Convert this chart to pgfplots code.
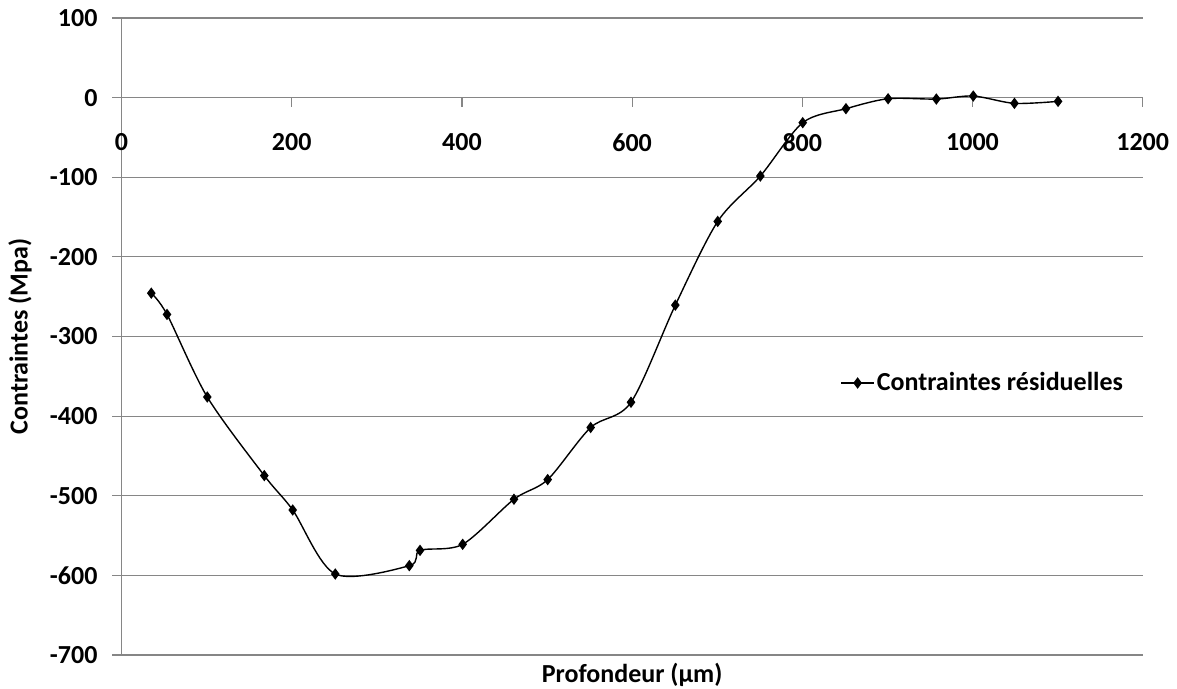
\documentclass[border=0pt]{standalone}
\usepackage{fontspec}
\setmainfont{Carlito}
\usepackage{pgfplots}
\pgfplotsset{compat=1.18}
\definecolor{gridgray}{RGB}{134,134,134}
\begin{document}
\begin{tikzpicture}
\begin{axis}[
  at={(0,0)}, anchor=south west,
  scale only axis, width=510.6pt, height=318.5pt,
  xmin=0, xmax=1200, ymin=-700, ymax=100,
  axis x line*=middle, axis y line*=left,
  axis line style={gridgray, line width=0.6pt},
  hide obscured x ticks=false, hide obscured y ticks=false,
  xtick={0,200,400,600,800,1000,1200},
  xticklabels={0,200,400,600,800,1000,1200},
  ytick={-700,-600,-500,-400,-300,-200,-100,0,100},
  yticklabels={-700,-600,-500,-400,-300,-200,-100,0,100},
  tick align=outside, major tick length=4.5pt,
  tick style={gridgray, line width=0.6pt},
  ymajorgrids, grid style={gridgray, line width=0.6pt},
  ticklabel style={font=\bfseries\fontsize{13}{15}\selectfont},
  xticklabel style={yshift=-10pt},
  yticklabel style={xshift=-4pt},
  xlabel={Profondeur (µm)}, ylabel={Contraintes (Mpa)},
  label style={font=\bfseries\fontsize{13}{15}\selectfont},
  xlabel style={at={(axis description cs:0.5,0)}, anchor=north, yshift=-0.5pt},
  ylabel style={at={(axis description cs:-0.0994,0.5)}, anchor=center, rotate=0},
  legend style={draw=none, fill=none, at={(axis description cs:0.7036,0.427)}, anchor=west,
    inner xsep=0pt, font=\bfseries\fontsize{13}{15}\selectfont, nodes={inner xsep=1pt}},
  legend cell align=left,
  legend image code/.code={
    \draw[mark repeat=2,mark phase=2,#1] plot coordinates {(0cm,0cm) (0.29cm,0cm) (0.58cm,0cm)};},
  clip=false,
]
\addplot[black, line width=0.7pt, smooth, tension=0.5, mark=diamond*, mark size=2.3pt, mark options={solid, fill=black}] coordinates {
(35.0,-245.6)
(53.5,-272.3)
(100.8,-376.0)
(167.8,-474.7)
(201.2,-517.9)
(251.2,-598.3)
(338.2,-587.8)
(350.8,-568.6)
(400.9,-561.0)
(461.2,-504.4)
(500.8,-479.7)
(551.3,-414.3)
(598.7,-382.6)
(650.8,-260.6)
(700.6,-155.5)
(750.7,-98.5)
(800.5,-31.5)
(851.3,-13.9)
(900.8,-1.4)
(957.5,-1.8)
(1000.9,2.0)
(1049.3,-7.2)
(1100.5,-4.7)
};
\addlegendentry{Contraintes résiduelles}
\end{axis}
\pgfresetboundingbox
\path[use as bounding box] (-60.75pt,-17pt) rectangle (527.75pt,327.5pt);
\end{tikzpicture}
\end{document}
